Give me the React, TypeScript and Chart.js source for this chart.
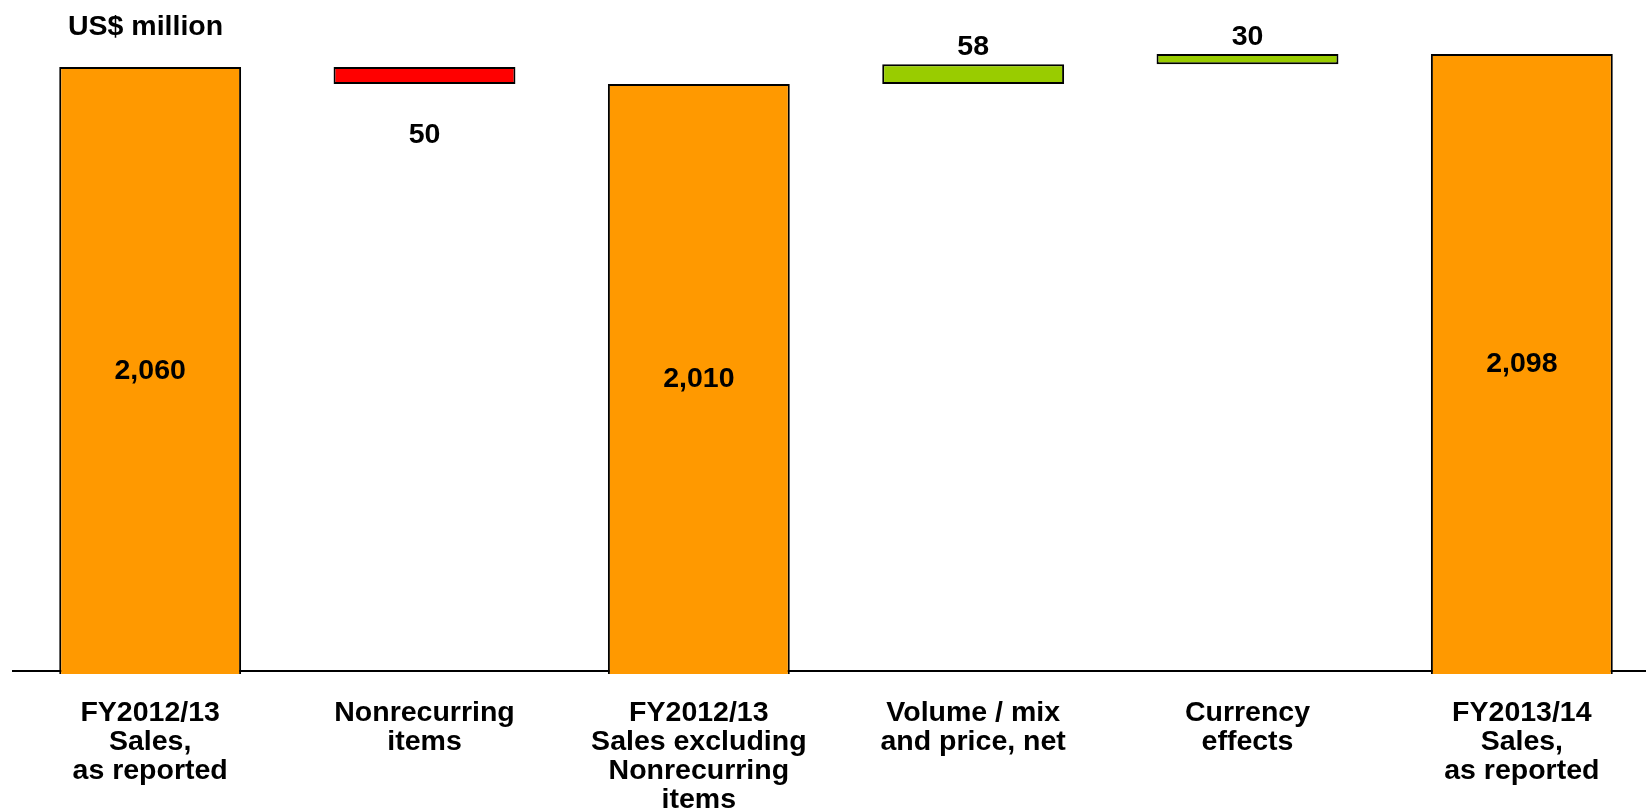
import React, { useEffect, useRef } from "react";
import { Chart, registerables } from "chart.js";

Chart.register(...registerables);

const categories: string[][] = [
  ["FY2012/13", "Sales,", "as reported"],
  ["Nonrecurring", "items"],
  ["FY2012/13", "Sales excluding", "Nonrecurring", "items"],
  ["Volume / mix", "and price, net"],
  ["Currency", "effects"],
  ["FY2013/14", "Sales,", "as reported"],
];
const barValues = [2060, -50, 2010, 58, 30, 2098];
const barKinds = ["total", "delta", "total", "delta", "delta", "total"];
const valueLabels = ["2,060", "50", "2,010", "58", "30", "2,098"];
const unitLabel = "US$ million";
const yMin = 300;
const yMax = 2255;

const FONT = "'Liberation Sans', Arial, sans-serif";
const ORANGE = "#FF9900";
const RED = "#FF0000";
const GREEN = "#99CC00";

function buildRanges(): number[][] {
  let running = 0;
  return barValues.map((v, i) => {
    if (barKinds[i] === "total") {
      running = v;
      return [0, v];
    }
    const start = running;
    running += v;
    return [start, running];
  });
}

function buildColors(): string[] {
  return barValues.map((v, i) =>
    barKinds[i] === "total" ? ORANGE : v < 0 ? RED : GREEN
  );
}

const labelPlugin = {
  id: "valueLabels",
  afterDraw(chart: any) {
    const ctx = chart.ctx as CanvasRenderingContext2D;
    const meta = chart.getDatasetMeta(0);
    const area = chart.chartArea;
    ctx.save();
    ctx.fillStyle = "#000";
    ctx.font = `bold 28.5px ${FONT}`;
    ctx.textAlign = "center";
    meta.data.forEach((el: any, i: number) => {
      const { x, y, base } = el.getProps(["x", "y", "base"], true);
      const top = Math.min(y, base);
      const bottom = Math.max(y, base);
      if (barKinds[i] === "total") {
        ctx.textBaseline = "middle";
        ctx.fillText(valueLabels[i], x, (top + area.bottom) / 2 + 2);
      } else if (barValues[i] < 0) {
        ctx.textBaseline = "alphabetic";
        ctx.fillText(valueLabels[i], x, bottom + 59);
      } else {
        ctx.textBaseline = "alphabetic";
        ctx.fillText(valueLabels[i], x, top - 9);
      }
    });
    ctx.textAlign = "left";
    ctx.textBaseline = "alphabetic";
    ctx.font = `bold 28.5px ${FONT}`;
    ctx.fillText(unitLabel, 68, 35);
    ctx.restore();
  },
};

export default function App() {
  const canvasRef = useRef<HTMLCanvasElement | null>(null);

  useEffect(() => {
    if (!canvasRef.current) return;
    const colors = buildColors();
    const chart = new Chart(canvasRef.current, {
      type: "bar",
      data: {
        labels: categories as any,
        datasets: [
          {
            data: buildRanges() as any,
            backgroundColor: colors,
            borderColor: "#000000",
            borderWidth: 2,
            borderSkipped: false,
            barPercentage: 0.663,
            categoryPercentage: 1,
            clip: { left: 0, top: 5, right: 0, bottom: 3 } as any,
          },
        ],
      },
      options: {
        responsive: false,
        animation: false,
        layout: { padding: { left: 13, right: 1, top: 0, bottom: 0 } },
        plugins: {
          legend: { display: false },
          tooltip: { enabled: false },
          title: { display: false },
        },
        scales: {
          x: {
            type: "category",
            offset: true,
            z: 1,
            grid: { display: false, drawTicks: false },
            border: { display: true, color: "#000000", width: 2 },
            ticks: {
              autoSkip: false,
              maxRotation: 0,
              minRotation: 0,
              padding: 28,
              color: "#000000",
              font: { family: FONT, size: 28.5, weight: "bold", lineHeight: "29px" as any },
            },
            afterFit: (scale: any) => {
              scale.height = 141;
            },
          },
          y: {
            display: false,
            min: yMin,
            max: yMax,
          },
        },
      },
      plugins: [labelPlugin],
    });
    return () => chart.destroy();
  }, []);

  return (
    <div
      style={{
        position: "absolute",
        left: 0,
        top: 0,
        width: 1646,
        height: 812,
        overflow: "hidden",
        background: "#fff",
      }}
    >
      <canvas ref={canvasRef} width={1660} height={812} style={{ display: "block" }} />
    </div>
  );
}
